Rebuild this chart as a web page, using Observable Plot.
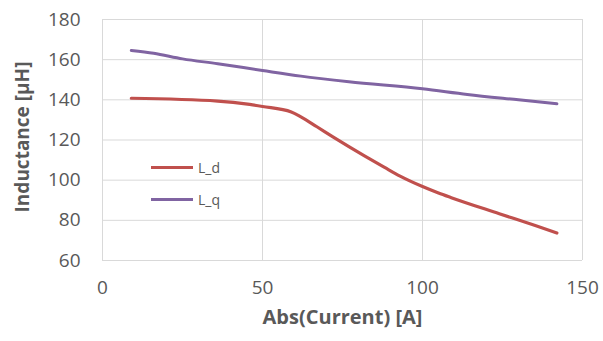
<!DOCTYPE html>
<html>
<head>
<meta charset="utf-8">
<script src="https://cdn.jsdelivr.net/npm/d3@7"></script>
<script src="https://cdn.jsdelivr.net/npm/@observablehq/plot@0.6"></script>
<style>
  body { margin: 0; background: #fff; font-family: "Open Sans", sans-serif; }
  #wrap { position: relative; width: 603px; height: 341px; }
  .legend { position: absolute; left: 151px; top: 151px; font-size: 14px; color: #595959; }
  .legend div { display: flex; align-items: center; height: 32px; }
  .legend span.sw { display: inline-block; width: 42px; height: 3px; margin-right: 5px; }
</style>
</head>
<body>
<div id="wrap"></div>
<script>
const seriesNames = ["L_d", "L_q"];
const colors = ["#c0504d", "#8064a2"];
const ldCurrent = [9, 36, 46, 50, 59, 62, 67, 72, 82, 88, 93, 100, 105, 109, 124, 135, 142];
const ldValue   = [140.8, 139.4, 137.7, 136.7, 134, 131.5, 126.6, 121.6, 112, 106.5, 102, 96.8, 93.6, 91.3, 83.3, 77.5, 73.7];
const lqCurrent = [9, 16, 25, 36, 50, 62, 77, 100, 114, 130, 142];
const lqValue   = [164.6, 163.2, 160.4, 158, 154.6, 151.8, 149, 145.5, 142.7, 140, 138];
const xTicks = [0, 50, 100, 150];
const yTicks = [60, 80, 100, 120, 140, 160, 180];

const ld = ldCurrent.map((x, i) => ({x, y: ldValue[i]}));
const lq = lqCurrent.map((x, i) => ({x, y: lqValue[i]}));

const chart = Plot.plot({
  width: 603, height: 341,
  marginLeft: 102, marginRight: 21, marginTop: 19, marginBottom: 81,
  style: { fontFamily: "Open Sans, sans-serif", background: "#fff", overflow: "visible" },
  x: { domain: [0, 150] },
  y: { domain: [60, 180] },
  marks: [
    Plot.gridX(xTicks, { stroke: "#d9d9d9", strokeOpacity: 1 }),
    Plot.gridY(yTicks, { stroke: "#d9d9d9", strokeOpacity: 1 }),
    Plot.axisX(xTicks, { tickSize: 0, tickPadding: 20, fontSize: 19, fill: "#595959", label: null }),
    Plot.axisY(yTicks, { tickSize: 0, tickPadding: 22, fontSize: 19, fill: "#595959", label: null }),
    Plot.line(ld, { x: "x", y: "y", stroke: colors[0], strokeWidth: 3.2, curve: "monotone-x" }),
    Plot.line(lq, { x: "x", y: "y", stroke: colors[1], strokeWidth: 3, curve: "monotone-x" }),
    Plot.text(["Abs(Current) [A]"], { frameAnchor: "bottom", dy: 63, fontSize: 20, fontWeight: "bold", fill: "#595959" }),
    Plot.text(["Inductance [µH]"], { frameAnchor: "left", textAnchor: "middle", dx: -80, dy: -3, rotate: -90, fontSize: 19, fontWeight: "bold", fill: "#595959" })
  ]
});
const wrap = document.getElementById("wrap");
wrap.appendChild(chart);
const leg = document.createElement("div");
leg.className = "legend";
seriesNames.forEach((n, i) => {
  const row = document.createElement("div");
  row.innerHTML = `<span class="sw" style="background:${colors[i]}"></span>${n}`;
  leg.appendChild(row);
});
wrap.appendChild(leg);
</script>
</body>
</html>
